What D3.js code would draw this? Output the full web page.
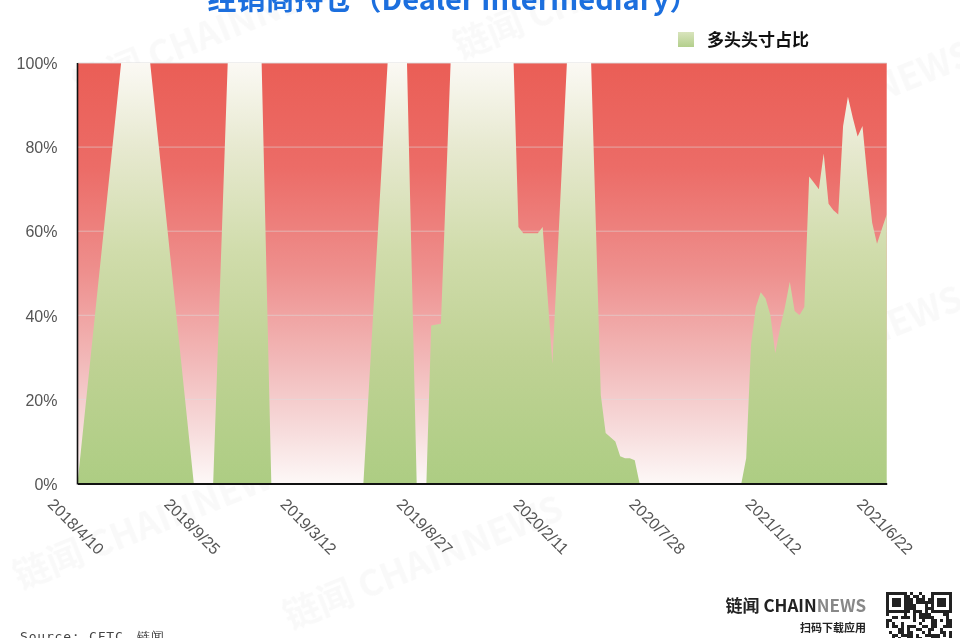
<!DOCTYPE html>
<html><head><meta charset="utf-8">
<script src="https://cdn.jsdelivr.net/npm/d3@7"></script>
<style>
html,body{margin:0;padding:0;background:#fff;}
svg{display:block;}
</style></head>
<body>
<script>
// ---- data (vertices of the long-share series, weekly CFTC dates) ----
const dates = ["2018-04-10","2018-06-12","2018-07-24","2018-09-25","2018-10-23","2018-11-13","2019-01-01","2019-01-15",
"2019-05-28","2019-07-02","2019-07-30","2019-08-13","2019-08-27","2019-09-03","2019-09-17","2019-10-01",
"2019-12-31","2020-01-07","2020-01-14","2020-02-04","2020-02-11","2020-02-25","2020-03-17","2020-04-21",
"2020-05-05","2020-05-12","2020-05-19","2020-05-26","2020-06-02","2020-06-09","2020-06-16","2020-06-23","2020-06-30",
"2020-11-24","2020-12-01","2020-12-08","2020-12-15","2020-12-22","2020-12-29","2021-01-05","2021-01-12",
"2021-01-19","2021-01-26","2021-02-02","2021-02-09","2021-02-16","2021-02-23","2021-03-02","2021-03-09",
"2021-03-16","2021-03-23","2021-03-30","2021-04-06","2021-04-13","2021-04-20","2021-04-27","2021-05-04",
"2021-05-11","2021-05-18","2021-05-25","2021-06-01","2021-06-08","2021-06-15","2021-06-22"];
const longShare = [0,100,100,0,0,100,100,0,
0,100,100,0,0,37.6,38,100,
100,61,59.5,59.5,61,28.5,100,100,
21,12,11,10,6.5,6,6,5.5,0,
0,6,33,42,45.5,44,40,31,
37,42,48,41,40,42,73,71.5,
70,78.5,66.5,65,64,85,92,87,
82.5,85,73,62,57,60.5,64];
const xTickLabels = ["2018/4/10","2018/9/25","2019/3/12","2019/8/27","2020/2/11","2020/7/28","2021/1/12","2021/6/22"];
const yTicks = [0,20,40,60,80,100];
const title = "经销商持仓（Dealer Intermediary）";
const legendLabel = "多头头寸占比";
const sourceText = "Source: CFTC，链闻";

const W = 960, H = 638;
const m = {left: 77.5, right: 886.7, top: 63, bottom: 483.5};
const parse = d3.timeParse("%Y-%m-%d");
const parseTick = d3.timeParse("%Y/%m/%d");
const data = dates.map((d,i)=>({date: parse(d), v: longShare[i]}));

const svg = d3.select("body").append("svg").attr("width", W).attr("height", H);
const defs = svg.append("defs");

const bg = defs.append("linearGradient").attr("id","bgGrad").attr("x1",0).attr("y1",0).attr("x2",0).attr("y2",1);
[[0,"#ea5e56"],[0.25,"#ec6c67"],[0.5,"#ee908e"],[0.72,"#f2bbbb"],[0.88,"#f7dddd"],[1,"#fdf8f7"]]
  .forEach(s=>bg.append("stop").attr("offset",s[0]).attr("stop-color",s[1]));
const gg = defs.append("linearGradient").attr("id","greenGrad").attr("gradientUnits","userSpaceOnUse")
  .attr("x1",0).attr("y1",m.top).attr("x2",0).attr("y2",m.bottom);
[[0,"#fbf9f4"],[0.2,"#e7e9d0"],[0.45,"#d0dcab"],[0.7,"#bfd294"],[1,"#adcd83"]]
  .forEach(s=>gg.append("stop").attr("offset",s[0]).attr("stop-color",s[1]));
const lg = defs.append("linearGradient").attr("id","legGrad").attr("x1",0).attr("y1",0).attr("x2",0).attr("y2",1);
[[0,"#d9e4bd"],[1,"#b3cf8c"]].forEach(s=>lg.append("stop").attr("offset",s[0]).attr("stop-color",s[1]));

const x = d3.scaleTime().domain([parse("2018-04-10"), parse("2021-06-22")]).range([m.left, m.right]);
const y = d3.scaleLinear().domain([0,100]).range([m.bottom, m.top]);

// faint watermarks
const wm = svg.append("g").attr("fill","#d4d4d4").attr("opacity",0.14)
  .attr("font-family","Noto Sans CJK SC, Liberation Sans, sans-serif").attr("font-weight","bold").attr("font-size",36);
[[80,100],[20,590],[290,630],[460,60],[700,175],[690,420]].forEach(p=>{
  wm.append("text").attr("transform",`translate(${p[0]},${p[1]}) rotate(-22)`).text("链闻 CHAINNEWS");
});

// plot background
svg.append("rect").attr("x",m.left).attr("y",m.top).attr("width",m.right-m.left).attr("height",m.bottom-m.top)
  .attr("fill","url(#bgGrad)");

// gridlines
svg.append("g").selectAll("line").data(yTicks.filter(t=>t>0)).join("line")
  .attr("x1",m.left).attr("x2",m.right).attr("y1",d=>y(d)).attr("y2",d=>y(d))
  .attr("stroke","#dcdcdc").attr("stroke-opacity",d=>d===100?0.9:0.55).attr("stroke-width",1);

// area
const area = d3.area().x(d=>x(d.date)).y0(y(0)).y1(d=>y(d.v)).curve(d3.curveLinear);
svg.append("path").datum(data).attr("d",area).attr("fill","url(#greenGrad)");

// axes
const yAxis = svg.append("g").attr("transform",`translate(${m.left-20},0)`)
  .call(d3.axisLeft(y).tickValues(yTicks).tickFormat(d=>d+"%").tickSize(0).tickPadding(0));
yAxis.select(".domain").remove();
yAxis.selectAll("text").attr("font-family","Liberation Sans, Arial, sans-serif").attr("font-size",16)
  .attr("fill","#555").attr("dy","0.36em");

svg.append("line").attr("x1",m.left).attr("x2",m.left).attr("y1",m.top).attr("y2",m.bottom+1)
  .attr("stroke","#111").attr("stroke-width",1.6);
const xAxis = svg.append("g").attr("transform",`translate(0,${m.bottom})`)
  .call(d3.axisBottom(x).tickValues(xTickLabels.map(parseTick)).tickFormat((d,i)=>xTickLabels[i]).tickSize(0));
xAxis.select(".domain").attr("stroke","#111").attr("stroke-width",2);
xAxis.selectAll("text").attr("font-family","Liberation Sans, Arial, sans-serif").attr("font-size",16)
  .attr("fill","#555").attr("text-anchor","middle").attr("y",0).attr("dy","0.35em")
  .attr("transform","translate(-2,43) rotate(45)");

// title (cut at top as in the reference)
svg.append("text").attr("x",453).attr("y",10).attr("text-anchor","middle")
  .attr("font-family","Noto Sans CJK SC, Liberation Sans, sans-serif").attr("font-weight","bold")
  .attr("font-size",29).attr("fill","#1c6fde").text(title);

// legend
svg.append("rect").attr("x",678).attr("y",32).attr("width",16).attr("height",15).attr("fill","url(#legGrad)");
svg.append("text").attr("x",707).attr("y",46).attr("font-family","Noto Sans CJK SC, sans-serif")
  .attr("font-weight","bold").attr("font-size",17).attr("fill","#111").text(legendLabel);

// source
svg.append("text").attr("x",20).attr("y",641).attr("font-family","DejaVu Sans Mono, monospace")
  .attr("font-size",13).attr("fill","#444").attr("letter-spacing",0.8).text(sourceText);

// logo
const logo = svg.append("text").attr("x",866).attr("y",612).attr("text-anchor","end")
  .attr("font-family","Noto Sans CJK SC, Liberation Sans, sans-serif").attr("font-weight","bold").attr("font-size",17);
logo.append("tspan").attr("fill","#222").text("链闻 CHAIN");
logo.append("tspan").attr("fill","#888").text("NEWS");
svg.append("text").attr("x",866).attr("y",632).attr("text-anchor","end")
  .attr("font-family","Noto Sans CJK SC, sans-serif").attr("font-weight","bold").attr("font-size",11)
  .attr("fill","#222").text("扫码下载应用");

// QR-like mark
const qr = svg.append("g").attr("transform","translate(886,592)");
const cell = 3;
const n = 22;
const seed = "chainnews-app-download-qr";
let h = 7;
for(let r=0;r<n;r++){for(let c=0;c<n;c++){
  h = (h*31 + seed.charCodeAt((r*n+c)%seed.length) + r*7 + c*13) % 1009;
  if(h%2===0) qr.append("rect").attr("x",c*cell).attr("y",r*cell).attr("width",cell).attr("height",cell).attr("fill","#222");
}}
[[0,0],[n-7,0]].forEach(p=>{
  qr.append("rect").attr("x",p[0]*cell).attr("y",p[1]*cell).attr("width",7*cell).attr("height",7*cell).attr("fill","#fff");
  qr.append("rect").attr("x",p[0]*cell+1.5).attr("y",p[1]*cell+1.5).attr("width",7*cell-3).attr("height",7*cell-3)
    .attr("fill","none").attr("stroke","#222").attr("stroke-width",3);
  qr.append("rect").attr("x",p[0]*cell+6).attr("y",p[1]*cell+6).attr("width",9).attr("height",9).attr("fill","#222");
});
</script>
</body></html>
